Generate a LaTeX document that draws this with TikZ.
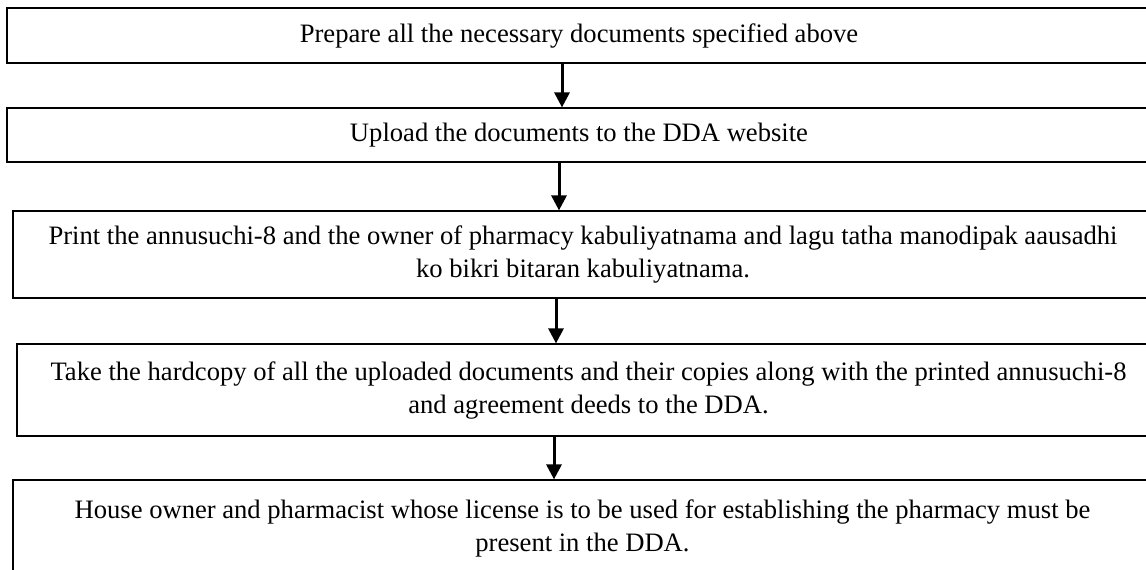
\documentclass[tikz,border=0pt]{standalone}
\usepackage{fontspec}
\setmainfont{Liberation Serif}
\usetikzlibrary{arrows.meta}
\tikzset{
  stepbox/.style={rectangle,draw=black,line width=0.6pt,inner sep=0pt,align=center,
    font=\fontsize{13.3}{16.5}\selectfont},
  flowarrow/.style={line width=1.5pt,-{Triangle[width=7.5pt,length=7.5pt]}}
}
\begin{document}
\begin{tikzpicture}[x=0.5pt,y=-0.5pt]
\useasboundingbox (0,0) rectangle (1146,569);
\clip (0,0) rectangle (1146,569);

\node[stepbox,minimum width=572pt,minimum height=27.5pt]   (prepare) at (579,35.5)    {Prepare all the necessary documents specified above};
\node[stepbox,minimum width=572pt,minimum height=27pt]     (upload)  at (579,135)     {Upload the documents to the DDA website};
\node[stepbox,minimum width=570pt,minimum height=43.5pt]   (print)   at (583,254.5)   {Print the annusuchi-8 and the owner of pharmacy kabuliyatnama and lagu tatha manodipak aausadhi\\ko bikri bitaran kabuliyatnama.};
\node[stepbox,minimum width=571.5pt,minimum height=46pt]   (hardcopy) at (588.5,390)  {Take the hardcopy of all the uploaded documents and their copies along with the printed annusuchi-8\\and agreement deeds to the DDA.};
\node[stepbox,minimum width=569.5pt,minimum height=48pt]   (present) at (582.5,528)   {House owner and pharmacist whose license is to be used for establishing the pharmacy must be\\present in the DDA.};

\draw[flowarrow] (prepare.south -| 562,0)  -- (upload.north -| 562,0);
\draw[flowarrow] (upload.south -| 559,0)   -- (print.north -| 559,0);
\draw[flowarrow] (print.south -| 556,0)    -- (hardcopy.north -| 556,0);
\draw[flowarrow] (hardcopy.south -| 554,0) -- (present.north -| 554,0);
\end{tikzpicture}
\end{document}
